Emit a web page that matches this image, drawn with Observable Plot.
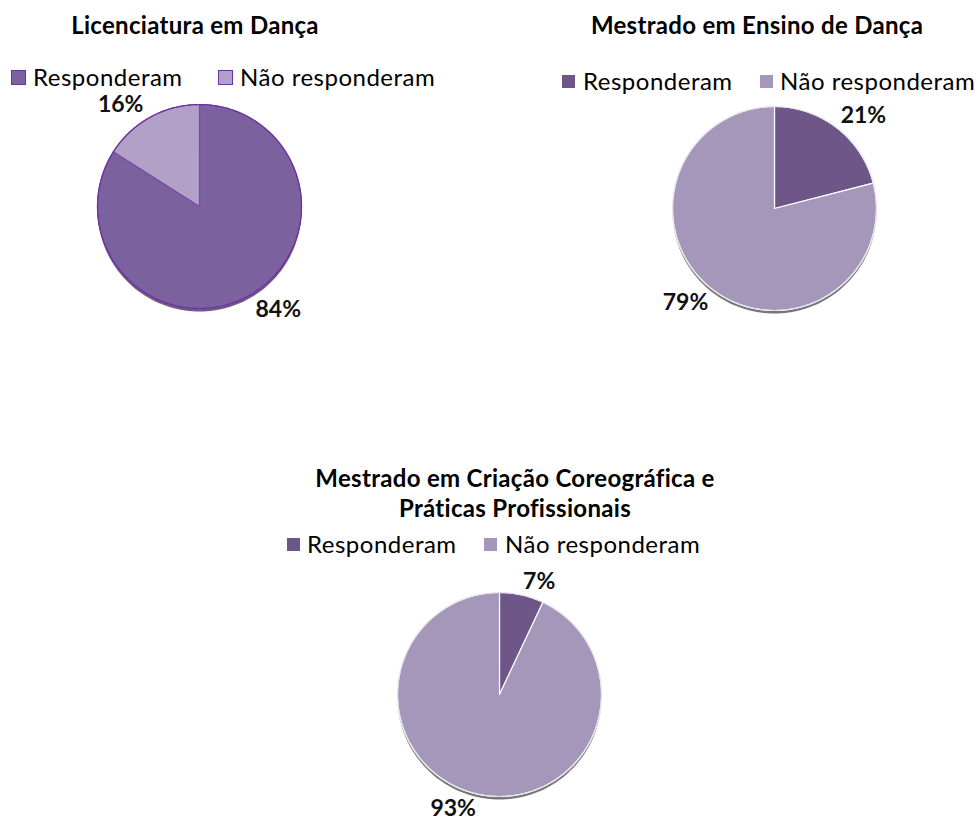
<!DOCTYPE html>
<html><head><meta charset="utf-8">
<script src="https://cdn.jsdelivr.net/npm/d3@7"></script>
<script src="https://cdn.jsdelivr.net/npm/@observablehq/plot@0.6"></script>
<style>
html,body{margin:0;padding:0;background:#fff;overflow:hidden;width:978px;height:821px;font-family:Lato,"Open Sans",sans-serif;}
#root{position:relative;width:978px;height:821px;}
.abs{position:absolute;}
.title{font-weight:700;font-size:24px;letter-spacing:0.3px;color:#000;text-align:center;white-space:nowrap;line-height:30px;transform:translate(-50%,-50%);}
.item{display:flex;align-items:center;font-size:24px;letter-spacing:0.5px;color:#000;white-space:nowrap;transform:translateY(-50%);line-height:28px}
.sw{display:inline-block;box-sizing:border-box;}
</style></head><body><div id="root"></div>
<script>
// ---- data ----
const categories = ["Responderam", "Não responderam"];
const licenciaturaValues = [84, 16];
const ensinoValues = [21, 79];
const criacaoValues = [7, 93];
const titleLicenciatura = ["Licenciatura em Dança"];
const titleEnsino = ["Mestrado em Ensino de Dança"];
const titleCriacao = ["Mestrado em Criação Coreográfica e", "Práticas Profissionais"];

// ---- styles / layout ----
const root = document.getElementById("root");
const HALF = 135;
const R = 102;

function makePie(values, opts) {
  const pie = d3.pie().sort(null).value(d => d.value);
  const rows = categories.map((c, i) => ({cat: c, value: values[i]}));
  const arcs = pie(rows);
  const slicePts = [];
  for (const a of arcs) {
    slicePts.push({cat: a.data.cat, x: 0, y: 0});
    const n = Math.max(4, Math.ceil((a.endAngle - a.startAngle) / (Math.PI / 180)));
    for (let k = 0; k <= n; k++) {
      const t = a.startAngle + (a.endAngle - a.startAngle) * k / n;
      slicePts.push({cat: a.data.cat, x: R * Math.sin(t), y: R * Math.cos(t)});
    }
  }
  const circlePts = d3.range(0, 361, 2).map(d => ({x: R * Math.sin(d * Math.PI / 180), y: R * Math.cos(d * Math.PI / 180)}));
  const labels = arcs.map(a => {
    const m = (a.startAngle + a.endAngle) / 2;
    const rr = R + 6;
    return {x: rr * Math.sin(m), y: rr * Math.cos(m), text: a.data.value + "%", right: Math.sin(m) >= 0, top: Math.cos(m) >= 0};
  });
  const textOpts = {x: "x", y: "y", text: "text", fontSize: 23, fontWeight: 700, fill: "#111"};
  const plot = Plot.plot({
    width: 2 * HALF, height: 2 * HALF, margin: 0,
    x: {domain: [-HALF, HALF], axis: null},
    y: {domain: [-HALF, HALF], axis: null},
    color: {domain: categories, range: opts.colors},
    style: {background: "transparent", overflow: "visible", fontFamily: "Lato, sans-serif"},
    marks: [
      Plot.line(circlePts, {x: "x", y: "y", fill: opts.shadow, stroke: "none", dy: 3, curve: "linear-closed", fillOpacity: 0.8}),
      Plot.line(slicePts, {x: "x", y: "y", z: "cat", fill: "cat", stroke: opts.edge, strokeWidth: 1.2, curve: "linear-closed"}),
      Plot.line(circlePts, {x: "x", y: "y", fill: "none", stroke: opts.rim, strokeWidth: 1.2, curve: "linear-closed"}),
      Plot.text(labels.filter(d => d.right && d.top), {...textOpts, textAnchor: "start", lineAnchor: "bottom"}),
      Plot.text(labels.filter(d => !d.right && d.top), {...textOpts, textAnchor: "end", lineAnchor: "bottom", dx: -4}),
      Plot.text(labels.filter(d => d.right && !d.top), {...textOpts, textAnchor: "start", lineAnchor: "top", dx: 4}),
      Plot.text(labels.filter(d => !d.right && !d.top), {...textOpts, textAnchor: "end", lineAnchor: "top"})
    ]
  });
  const div = document.createElement("div");
  div.className = "abs";
  div.style.left = (opts.cx - HALF) + "px";
  div.style.top = (opts.cy - HALF) + "px";
  div.appendChild(plot);
  root.appendChild(div);
}

function addTitle(lines, cx, cy) {
  const d = document.createElement("div");
  d.className = "abs title";
  d.style.left = cx + "px";
  d.style.top = cy + "px";
  d.innerHTML = lines.join("<br>");
  root.appendChild(d);
}

function addLegend(positions, cy, colors, size, border) {
  categories.forEach((c, i) => {
    const it = document.createElement("div");
    it.className = "abs item";
    it.style.left = positions[i][0] + "px";
    it.style.top = cy + "px";
    const sw = document.createElement("span");
    sw.className = "sw";
    sw.style.width = size + "px";
    sw.style.height = size + "px";
    sw.style.background = colors[i];
    if (border) sw.style.border = "1.5px solid " + border;
    sw.style.marginRight = (positions[i][1] - positions[i][0] - size) + "px";
    it.appendChild(sw);
    it.appendChild(document.createTextNode(c));
    root.appendChild(it);
  });
}

const licColors = ["#7b629e", "#b1a1c6"];
const mColors = ["#6e5689", "#a497ba"];

addTitle(titleLicenciatura, 195, 25);
addLegend([[11, 33], [218, 240]], 77, licColors, 15, "#7030a0");
makePie(licenciaturaValues, {cx: 199, cy: 206, colors: licColors, edge: "#7a4aa8", rim: "#7030a0", shadow: "#4a3360"});

addTitle(titleEnsino, 757, 25);
addLegend([[562, 583], [760, 780]], 81, mColors, 13, null);
makePie(ensinoValues, {cx: 774, cy: 208, colors: mColors, edge: "#ffffff", rim: "#e8e4ee", shadow: "#555555"});

addTitle(titleCriacao, 515, 493);
addLegend([[287, 307], [484, 505]], 544, mColors, 13, null);
makePie(criacaoValues, {cx: 499, cy: 694, colors: mColors, edge: "#ffffff", rim: "#e8e4ee", shadow: "#555555"});
</script>
</body></html>
